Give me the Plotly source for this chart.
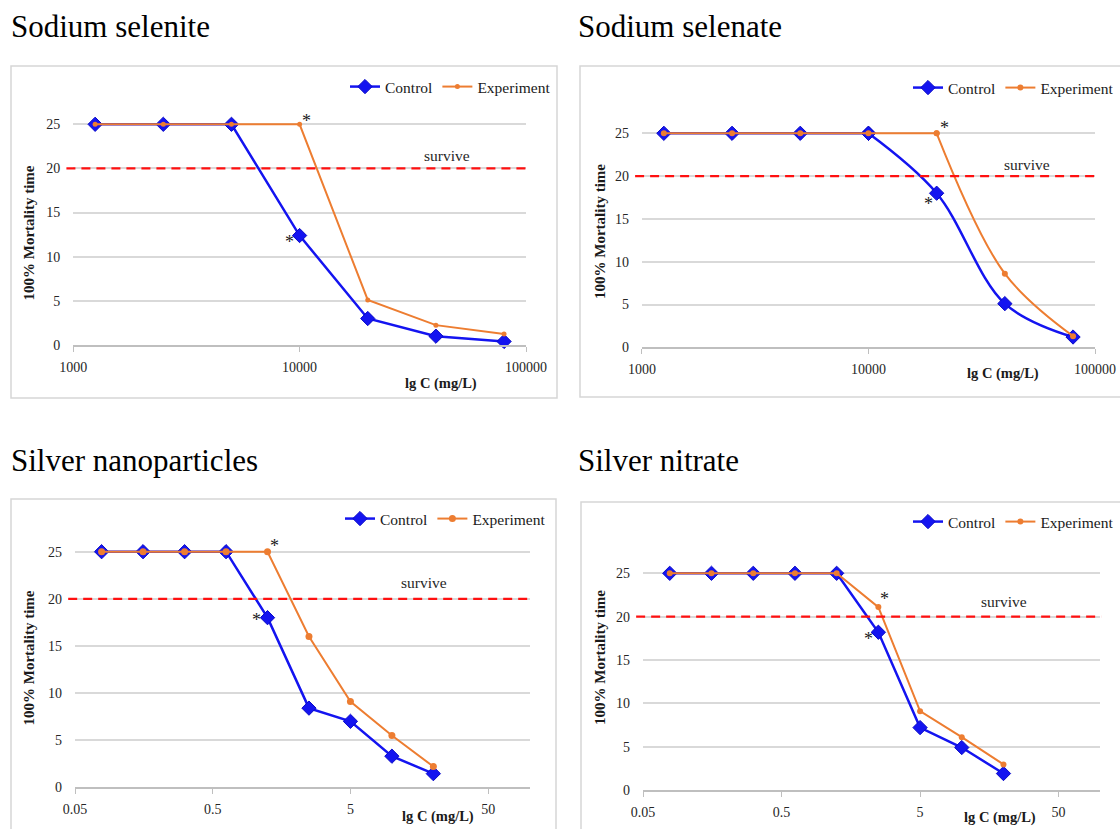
import math
import plotly.graph_objects as go

W, H = 1120, 829

# ---------------- data ----------------
conc_se = [1250, 2500, 5000, 10000, 20000, 40000, 80000]
selenite_control = [25, 25, 25, 12.4, 3.0, 1.0, 0.4]
selenite_experiment = [25, 25, 25, 25, 5.1, 2.25, 1.25]
selenate_control = [25, 25, 25, 25, 18.0, 5.1, 1.2]
selenate_experiment = [25, 25, 25, 25, 25, 8.6, 1.3]

conc_ag = [0.078, 0.156, 0.3125, 0.625, 1.25, 2.5, 5, 10, 20]
agnp_control = [25, 25, 25, 25, 18.0, 8.4, 7.0, 3.3, 1.45]
agnp_experiment = [25, 25, 25, 25, 25, 16.0, 9.1, 5.5, 2.2]
agno3_control = [25, 25, 25, 25, 25, 18.2, 7.2, 4.9, 1.9]
agno3_experiment = [25, 25, 25, 25, 25, 21.1, 9.1, 6.1, 2.95]

panel_titles = ["Sodium selenite", "Sodium selenate", "Silver nanoparticles", "Silver nitrate"]
se_ticks = [1000, 10000, 100000]
se_ticktext = ["1000", "10000", "100000"]
ag_ticks = [0.05, 0.5, 5, 50]
ag_ticktext = ["0.05", "0.5", "5", "50"]
y_ticks = [0, 5, 10, 15, 20, 25]
survive_level = 20
series_names = ["Control", "Experiment"]

FONT = "Liberation Serif, Times New Roman, Times, DejaVu Serif, serif"
BLUE = "#1414F0"
ORANGE = "#ED7D31"
GRID = "#d9d9d9"
AXIS = "#bfbfbf"


def px_x(x):
    return x / W


def px_y(y):
    return 1 - y / H


panels = [
    dict(title=panel_titles[0], tpos=(9, 26), x=conc_se, c=selenite_control, e=selenite_experiment,
         xpix=(73.2, 526.0), xr=(3, 5), y0=345.0, y25=124.3, tv=se_ticks, tt=se_ticktext,
         spline=False, box=(11, 66, 557, 398), leg=(556, 87), emsize=5,
         stars=[("e", 3, 7, 3), ("c", 3, -10, -6)], surv=(0.881, 12.5),
         ytitle=(28.5, 233), xtitle=(441, 383)),
    dict(title=panel_titles[1], tpos=(576, 26), x=conc_se, c=selenate_control, e=selenate_experiment,
         xpix=(641.9, 1095.0), xr=(3, 5), y0=347.3, y25=133.3, tv=se_ticks, tt=se_ticktext,
         spline=True, box=(580, 66, 1130, 397), leg=(1119, 88), emsize=6,
         stars=[("e", 4, 8, 5), ("c", 4, -8, -11)], surv=(0.905, 12),
         ytitle=(600, 232), xtitle=(1003, 373)),
    dict(title=panel_titles[2], tpos=(9, 461), x=conc_ag, c=agnp_control, e=agnp_experiment,
         xpix=(75.0, 529.6), xr=(-1.30103, 2.0), y0=787.3, y25=551.7, tv=ag_ticks, tt=ag_ticktext,
         spline=False, box=(11, 499, 556, 840), leg=(551, 519), emsize=7,
         stars=[("e", 4, 7, 6), ("c", 4, -11, -2)], surv=(0.823, 16),
         ytitle=(28.5, 658), xtitle=(437.5, 816)),
    dict(title=panel_titles[3], tpos=(576, 461), x=conc_ag, c=agno3_control, e=agno3_experiment,
         xpix=(643.0, 1100.3), xr=(-1.30103, 2.0), y0=790.0, y25=573.3, tv=ag_ticks, tt=ag_ticktext,
         spline=False, box=(581, 502, 1130, 840), leg=(1119, 522), emsize=6,
         stars=[("e", 5, 6, 8), ("c", 5, -10, -7)], surv=(0.845, 15),
         ytitle=(600, 658), xtitle=(999.7, 817)),
]

fig = go.Figure()
annotations = []
shapes = []
YMAX = 28


def add_series(xs, ys, name, color, width, marker, xref, yref, leg, smooth):
    if not smooth:
        fig.add_trace(go.Scatter(
            x=xs, y=ys, name=name, mode="lines+markers",
            line=dict(color=color, width=width), marker=marker,
            xaxis=xref, yaxis=yref, legend=leg, cliponaxis=False))
        return
    # plateau drawn straight, the falling part smoothed (as the Excel smoothed line looks)
    top = max(ys)
    k = max(j for j, v in enumerate(ys) if v == top)
    fig.add_trace(go.Scatter(
        x=xs[:k + 1], y=ys[:k + 1], name=name, mode="lines+markers",
        line=dict(color=color, width=width), marker=marker,
        xaxis=xref, yaxis=yref, legend=leg, cliponaxis=False))
    fig.add_trace(go.Scatter(
        x=xs[k:], y=ys[k:], name=name, mode="lines+markers", showlegend=False,
        line=dict(color=color, width=width, shape="spline", smoothing=1.0), marker=marker,
        xaxis=xref, yaxis=yref, legend=leg, cliponaxis=False))


for i, p in enumerate(panels):
    n = i + 1
    xa = "xaxis" if n == 1 else f"xaxis{n}"
    ya = "yaxis" if n == 1 else f"yaxis{n}"
    xref = "x" if n == 1 else f"x{n}"
    yref = "y" if n == 1 else f"y{n}"
    leg = "legend" if n == 1 else f"legend{n}"

    unit = (p["y0"] - p["y25"]) / 25.0
    ytop = p["y0"] - YMAX * unit

    add_series(p["x"], p["c"], series_names[0], BLUE, 2.5,
               dict(symbol="diamond", size=11, color=BLUE, line=dict(color="#0a0ac8", width=1)),
               xref, yref, leg, p["spline"])
    add_series(p["x"], p["e"], series_names[1], ORANGE, 2,
               dict(symbol="circle", size=p["emsize"], color=ORANGE),
               xref, yref, leg, p["spline"])

    fig.layout[xa] = dict(
        type="log", range=list(p["xr"]), domain=[px_x(p["xpix"][0]), px_x(p["xpix"][1])],
        anchor=yref, tickvals=p["tv"], ticktext=p["tt"], showgrid=False, zeroline=False,
        showline=True, linecolor=AXIS, linewidth=1.5, ticks="outside", ticklen=5,
        tickcolor=AXIS, tickwidth=1.2, ticklabelstandoff=3, automargin=False,
        tickfont=dict(family=FONT, size=14, color="#262626"))
    fig.layout[ya] = dict(
        range=[0, YMAX], domain=[px_y(p["y0"]), px_y(ytop)], anchor=xref,
        tickvals=y_ticks, showgrid=True, gridcolor=GRID, gridwidth=1.5, zeroline=False,
        showline=False, ticks="", ticklabelstandoff=12, automargin=False,
        tickfont=dict(family=FONT, size=14, color="#262626"))

    fig.layout[leg] = dict(
        orientation="h", x=px_x(p["leg"][0]), y=px_y(p["leg"][1]), xanchor="right",
        yanchor="middle", xref="paper", yref="paper", bgcolor="rgba(0,0,0,0)",
        font=dict(family=FONT, size=15.5, color="#1a1a1a"), itemwidth=30,
        tracegroupgap=0)

    # panel frame
    bx0, by0, bx1, by1 = p["box"]
    shapes.append(dict(type="rect", xref="paper", yref="paper",
                       x0=px_x(bx0), x1=px_x(bx1), y0=px_y(by1), y1=px_y(by0),
                       line=dict(color="#d6d6d6", width=1.5), layer="below"))
    # survive line
    shapes.append(dict(type="line", xref=f"{xref} domain", yref=yref,
                       x0=-0.015, x1=1.002, y0=survive_level, y1=survive_level,
                       line=dict(color="#ff1010", width=2.2, dash="9px,6px")))

    annotations.append(dict(text="survive", xref=f"{xref} domain", yref=yref,
                            x=p["surv"][0], y=survive_level, yshift=p["surv"][1],
                            showarrow=False, font=dict(family=FONT, size=15.5, color="#262626")))
    # title
    annotations.append(dict(text=p["title"], xref="paper", yref="paper",
                            x=px_x(p["tpos"][0]), y=px_y(p["tpos"][1]), xanchor="left",
                            yanchor="middle", showarrow=False,
                            font=dict(family=FONT, size=31, color="#000000")))
    # axis titles
    annotations.append(dict(text="<b>100% Mortality time</b>", xref="paper", yref="paper",
                            x=px_x(p["ytitle"][0]), y=px_y(p["ytitle"][1]), textangle=-90,
                            xanchor="center", yanchor="middle", showarrow=False,
                            font=dict(family=FONT, size=15, color="#1a1a1a")))
    annotations.append(dict(text="<b>lg C (mg/L)</b>", xref="paper", yref="paper",
                            x=px_x(p["xtitle"][0]), y=px_y(p["xtitle"][1]),
                            xanchor="center", yanchor="middle", showarrow=False,
                            font=dict(family=FONT, size=14.5, color="#1a1a1a")))
    # significance stars
    for which, idx, dx, dy in p["stars"]:
        yv = p["e"][idx] if which == "e" else p["c"][idx]
        annotations.append(dict(text="*", xref=xref, yref=yref, x=math.log10(p["x"][idx]),
                                y=yv, xshift=dx, yshift=dy, showarrow=False,
                                font=dict(family=FONT, size=18, color="#1a1a1a")))

fig.update_layout(
    width=W, height=H, margin=dict(l=0, r=0, t=0, b=0, pad=0, autoexpand=False),
    paper_bgcolor="white", plot_bgcolor="white",
    annotations=annotations, shapes=shapes,
)

fig.write_html("out.html")
